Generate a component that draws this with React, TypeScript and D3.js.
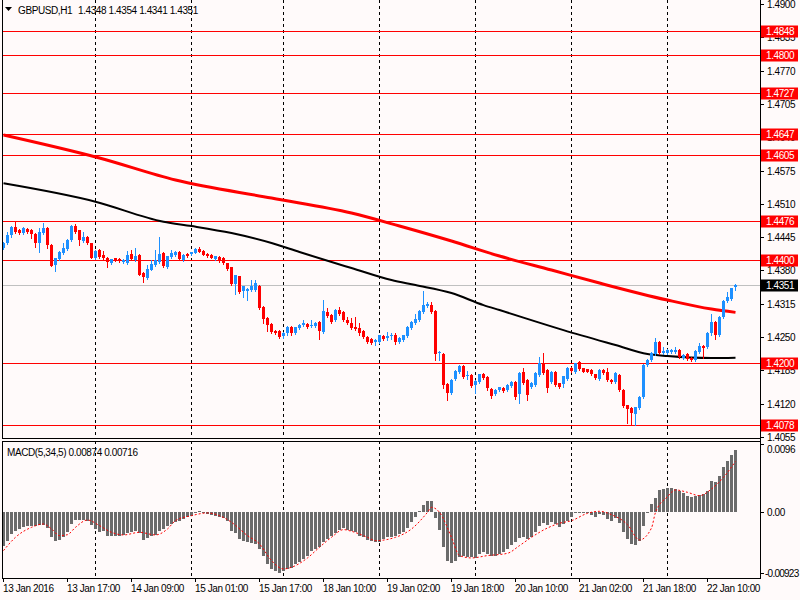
import React from "react";
import * as d3 from "d3";

// ---------- DATA ----------
const symbolTitle = "GBPUSD,H1";
const lastOHLC = [1.4348, 1.4354, 1.4341, 1.4351];

// hourly candles [open, high, low, close]
const candles: [number, number, number, number][] = [
  [1.4423,1.4436,1.4421,1.4434],[1.4433,1.4456,1.4431,1.4449],[1.4449,1.4467,1.4446,1.4465],[1.4464,1.4475,1.4454,1.4456],
  [1.4458,1.4460,1.4451,1.4454],[1.4454,1.4464,1.4452,1.4462],[1.4460,1.4462,1.4453,1.4456],[1.4459,1.4461,1.4443,1.4451],
  [1.4452,1.4454,1.4426,1.4433],[1.4433,1.4462,1.4417,1.4456],[1.4454,1.4472,1.4452,1.4462],[1.4462,1.4464,1.4423,1.4430],
  [1.4430,1.4431,1.4388,1.4389],[1.4391,1.4405,1.4378,1.4404],[1.4402,1.4418,1.4400,1.4417],[1.4415,1.4433,1.4413,1.4423],
  [1.4422,1.4441,1.4420,1.4439],[1.4439,1.4468,1.4437,1.4467],[1.4467,1.4471,1.4454,1.4456],[1.4458,1.4459,1.4430,1.4439],
  [1.4437,1.4456,1.4435,1.4445],[1.4445,1.4447,1.4431,1.4433],[1.4433,1.4434,1.4404,1.4405],[1.4404,1.4419,1.4402,1.4418],
  [1.4420,1.4421,1.4405,1.4407],[1.4410,1.4418,1.4402,1.4404],[1.4405,1.4406,1.4387,1.4397],[1.4395,1.4403,1.4392,1.4402],
  [1.4404,1.4405,1.4398,1.4399],[1.4403,1.4404,1.4397,1.4398],[1.4396,1.4402,1.4395,1.4400],[1.4395,1.4418,1.4393,1.4410],
  [1.4412,1.4420,1.4400,1.4402],[1.4400,1.4423,1.4398,1.4408],[1.4410,1.4412,1.4371,1.4372],[1.4376,1.4377,1.4358,1.4368],
  [1.4366,1.4391,1.4364,1.4382],[1.4381,1.4400,1.4380,1.4392],[1.4391,1.4420,1.4389,1.4400],[1.4397,1.4445,1.4395,1.4412],
  [1.4415,1.4416,1.4387,1.4389],[1.4387,1.4409,1.4385,1.4408],[1.4407,1.4420,1.4405,1.4415],[1.4410,1.4418,1.4409,1.4417],
  [1.4417,1.4418,1.4400,1.4402],[1.4400,1.4412,1.4399,1.4410],[1.4413,1.4415,1.4406,1.4408],[1.4412,1.4417,1.4411,1.4416],
  [1.4415,1.4424,1.4414,1.4422],[1.4422,1.4425,1.4416,1.4417],[1.4418,1.4420,1.4410,1.4411],[1.4413,1.4415,1.4406,1.4408],
  [1.4411,1.4412,1.4404,1.4405],[1.4403,1.4409,1.4401,1.4408],[1.4407,1.4408,1.4396,1.4398],[1.4405,1.4406,1.4393,1.4395],
  [1.4394,1.4395,1.4380,1.4382],[1.4386,1.4387,1.4352,1.4353],[1.4353,1.4372,1.4335,1.4371],[1.4369,1.4370,1.4336,1.4338],
  [1.4340,1.4350,1.4329,1.4349],[1.4340,1.4346,1.4322,1.4344],[1.4342,1.4362,1.4340,1.4350],[1.4342,1.4362,1.4340,1.4355],
  [1.4350,1.4352,1.4305,1.4307],[1.4309,1.4311,1.4278,1.4286],[1.4288,1.4289,1.4262,1.4273],[1.4275,1.4277,1.4257,1.4260],
  [1.4262,1.4264,1.4256,1.4258],[1.4262,1.4263,1.4249,1.4251],[1.4253,1.4260,1.4249,1.4257],[1.4257,1.4271,1.4255,1.4270],
  [1.4270,1.4271,1.4255,1.4257],[1.4258,1.4270,1.4256,1.4269],[1.4267,1.4275,1.4265,1.4273],[1.4273,1.4283,1.4272,1.4278],
  [1.4275,1.4277,1.4268,1.4270],[1.4271,1.4283,1.4270,1.4273],[1.4271,1.4280,1.4270,1.4278],[1.4280,1.4282,1.4246,1.4262],
  [1.4260,1.4322,1.4258,1.4301],[1.4298,1.4306,1.4290,1.4292],[1.4294,1.4296,1.4278,1.4280],[1.4283,1.4305,1.4281,1.4303],
  [1.4303,1.4308,1.4294,1.4296],[1.4299,1.4301,1.4281,1.4283],[1.4283,1.4290,1.4275,1.4277],[1.4278,1.4288,1.4265,1.4267],
  [1.4270,1.4290,1.4263,1.4265],[1.4268,1.4277,1.4255,1.4257],[1.4262,1.4263,1.4249,1.4251],[1.4251,1.4252,1.4239,1.4241],
  [1.4247,1.4249,1.4237,1.4239],[1.4241,1.4246,1.4234,1.4244],[1.4241,1.4255,1.4239,1.4254],[1.4253,1.4254,1.4245,1.4247],
  [1.4249,1.4260,1.4245,1.4252],[1.4252,1.4258,1.4247,1.4255],[1.4255,1.4257,1.4236,1.4241],[1.4240,1.4250,1.4238,1.4249],
  [1.4245,1.4255,1.4243,1.4254],[1.4252,1.4271,1.4250,1.4270],[1.4267,1.4282,1.4265,1.4280],[1.4278,1.4296,1.4276,1.4285],
  [1.4283,1.4303,1.4281,1.4301],[1.4299,1.4340,1.4297,1.4312],[1.4311,1.4319,1.4309,1.4314],[1.4312,1.4319,1.4297,1.4299],
  [1.4301,1.4303,1.4205,1.4217],[1.4218,1.4223,1.4205,1.4221],[1.4217,1.4219,1.4150,1.4156],[1.4158,1.4160,1.4128,1.4141],
  [1.4140,1.4169,1.4138,1.4167],[1.4168,1.4186,1.4166,1.4184],[1.4182,1.4195,1.4180,1.4193],[1.4193,1.4195,1.4171,1.4173],
  [1.4174,1.4184,1.4169,1.4176],[1.4176,1.4177,1.4152,1.4154],[1.4156,1.4166,1.4140,1.4164],[1.4163,1.4178,1.4161,1.4177],
  [1.4177,1.4179,1.4169,1.4171],[1.4173,1.4174,1.4146,1.4150],[1.4149,1.4150,1.4132,1.4135],[1.4139,1.4148,1.4137,1.4147],
  [1.4147,1.4153,1.4145,1.4152],[1.4150,1.4152,1.4143,1.4145],[1.4147,1.4158,1.4145,1.4156],[1.4154,1.4165,1.4152,1.4163],
  [1.4163,1.4165,1.4130,1.4134],[1.4139,1.4182,1.4122,1.4180],[1.4182,1.4189,1.4158,1.4160],[1.4167,1.4169,1.4127,1.4137],
  [1.4152,1.4163,1.4150,1.4161],[1.4156,1.4181,1.4154,1.4179],[1.4176,1.4212,1.4174,1.4199],[1.4199,1.4218,1.4178,1.4180],
  [1.4186,1.4187,1.4143,1.4150],[1.4163,1.4184,1.4161,1.4182],[1.4182,1.4184,1.4154,1.4156],[1.4160,1.4161,1.4150,1.4152],
  [1.4158,1.4175,1.4153,1.4174],[1.4169,1.4192,1.4167,1.4190],[1.4190,1.4192,1.4182,1.4184],[1.4182,1.4200,1.4180,1.4199],
  [1.4202,1.4204,1.4185,1.4187],[1.4189,1.4190,1.4181,1.4182],[1.4187,1.4188,1.4181,1.4182],[1.4186,1.4187,1.4176,1.4178],
  [1.4177,1.4178,1.4169,1.4171],[1.4169,1.4187,1.4167,1.4186],[1.4186,1.4187,1.4177,1.4179],[1.4182,1.4189,1.4164,1.4166],
  [1.4167,1.4168,1.4160,1.4162],[1.4163,1.4182,1.4161,1.4180],[1.4176,1.4178,1.4145,1.4147],[1.4147,1.4148,1.4113,1.4115],
  [1.4117,1.4118,1.4082,1.4109],[1.4112,1.4113,1.4080,1.4101],[1.4100,1.4114,1.4078,1.4113],[1.4111,1.4135,1.4109,1.4134],
  [1.4134,1.4197,1.4132,1.4195],[1.4195,1.4207,1.4193,1.4205],[1.4205,1.4221,1.4203,1.4219],[1.4217,1.4249,1.4215,1.4241],
  [1.4241,1.4243,1.4216,1.4218],[1.4218,1.4230,1.4216,1.4223],[1.4219,1.4226,1.4217,1.4225],[1.4221,1.4227,1.4219,1.4225],
  [1.4221,1.4230,1.4219,1.4225],[1.4225,1.4227,1.4210,1.4212],[1.4210,1.4216,1.4208,1.4215],[1.4217,1.4218,1.4206,1.4208],
  [1.4210,1.4211,1.4204,1.4206],[1.4206,1.4224,1.4204,1.4223],[1.4221,1.4238,1.4219,1.4232],[1.4232,1.4234,1.4210,1.4229],
  [1.4231,1.4260,1.4229,1.4257],[1.4257,1.4296,1.4255,1.4280],[1.4280,1.4282,1.4247,1.4255],[1.4255,1.4291,1.4253,1.4290],
  [1.4290,1.4322,1.4288,1.4321],[1.4321,1.4337,1.4319,1.4329],[1.4324,1.4346,1.4322,1.4345],[1.4348,1.4354,1.4341,1.4351],
];

// moving averages sampled at bar indices [index, price]
const maRed: [number, number][] = [
  [0,1.46443],[24,1.45994],[43,1.45564],[67,1.45213],[87,1.44920],[99,1.44667],[112,1.44374],
  [124,1.44081],[137,1.43808],[149,1.43554],[166,1.43222],[177,1.43046],[183,1.42982],
];
const maBlack: [number, number][] = [
  [0,1.45500],[23,1.45141],[40,1.44750],[47,1.44667],[57,1.44530],[67,1.44335],[74,1.44159],
  [87,1.43847],[97,1.43612],[103,1.43515],[112,1.43359],[120,1.43124],[124,1.43027],[140,1.42636],
  [153,1.42344],[161,1.42168],[166,1.42129],[177,1.42090],[183,1.42096],
];

// MACD histogram per bar
const macdHist: number[] = [
  -0.00468,-0.00398,-0.00304,-0.00267,-0.00234,-0.00201,-0.00187,-0.00187,-0.00187,-0.00173,
  -0.00173,-0.00220,-0.00351,-0.00398,-0.00384,-0.00351,-0.00281,-0.00164,-0.00108,-0.00108,
  -0.00108,-0.00117,-0.00173,-0.00234,-0.00281,-0.00267,-0.00328,-0.00328,-0.00328,-0.00328,
  -0.00314,-0.00295,-0.00281,-0.00257,-0.00295,-0.00384,-0.00360,-0.00328,-0.00318,-0.00257,
  -0.00234,-0.00187,-0.00164,-0.00140,-0.00117,-0.00094,-0.00061,-0.00047,-0.00014,0.00014,
  -0.00014,-0.00023,-0.00033,-0.00047,-0.00061,-0.00080,-0.00117,-0.00257,-0.00295,-0.00374,
  -0.00398,-0.00421,-0.00435,-0.00445,-0.00515,-0.00608,-0.00725,-0.00796,-0.00828,-0.00856,
  -0.00828,-0.00796,-0.00782,-0.00725,-0.00702,-0.00655,-0.00608,-0.00548,-0.00515,-0.00482,
  -0.00421,-0.00374,-0.00328,-0.00295,-0.00248,-0.00225,-0.00248,-0.00257,-0.00281,-0.00328,
  -0.00351,-0.00384,-0.00398,-0.00421,-0.00412,-0.00374,-0.00351,-0.00351,-0.00328,-0.00304,
  -0.00281,-0.00220,-0.00140,-0.00070,0.00023,0.00108,0.00164,0.00164,-0.00084,-0.00243,
  -0.00491,-0.00688,-0.00716,-0.00688,-0.00632,-0.00608,-0.00622,-0.00622,-0.00641,-0.00585,
  -0.00562,-0.00585,-0.00608,-0.00608,-0.00585,-0.00562,-0.00515,-0.00454,-0.00421,-0.00360,
  -0.00351,-0.00374,-0.00351,-0.00281,-0.00187,-0.00154,-0.00178,-0.00140,-0.00164,-0.00201,
  -0.00164,-0.00117,-0.00070,0.00005,0.00009,0.00009,-0.00014,-0.00033,-0.00070,-0.00023,
  -0.00033,-0.00094,-0.00117,-0.00080,-0.00154,-0.00281,-0.00374,-0.00445,-0.00459,-0.00398,
  -0.00187,-0.00014,0.00117,0.00201,0.00314,0.00332,0.00342,0.00342,0.00328,0.00304,
  0.00267,0.00234,0.00211,0.00234,0.00248,0.00257,0.00304,0.00435,0.00421,0.00515,
  0.00632,0.00725,0.00810,0.00874,
];

// MACD signal line sampled at bar indices
const macdSignal: [number, number][] = [
  [0,-0.00538],[3,-0.00351],[7,-0.00211],[10,-0.00164],[12,-0.00234],[14,-0.00328],[16,-0.00314],
  [18,-0.00211],[21,-0.00108],[24,-0.00187],[27,-0.00281],[30,-0.00318],[34,-0.00281],[38,-0.00318],
  [41,-0.00234],[43,-0.00117],[47,-0.00047],[51,-0.00009],[54,-0.00047],[57,-0.00140],[61,-0.00328],
  [64,-0.00445],[67,-0.00679],[70,-0.00796],[72,-0.00772],[76,-0.00641],[79,-0.00491],[82,-0.00351],
  [85,-0.00243],[87,-0.00267],[91,-0.00351],[93,-0.00398],[98,-0.00351],[102,-0.00234],[106,0.0],
  [107,0.00070],[109,0.0],[112,-0.00351],[114,-0.00608],[117,-0.00641],[121,-0.00608],[126,-0.00576],
  [129,-0.00468],[132,-0.00351],[136,-0.00220],[139,-0.00154],[142,-0.00117],[146,-0.00014],
  [149,0.00014],[152,-0.00033],[156,-0.00173],[159,-0.00388],[162,-0.00220],[163,0.0],[166,0.00220],
  [168,0.00314],[171,0.00281],[174,0.00234],[177,0.00328],[180,0.00491],[183,0.00716],
];

const priceTicks = [1.49, 1.4835, 1.477, 1.4705, 1.464, 1.4575, 1.451, 1.4445, 1.438, 1.4315, 1.425, 1.4185, 1.412, 1.4055];
const levelLines = [1.4848, 1.48, 1.4727, 1.4647, 1.4605, 1.4476, 1.44, 1.42, 1.4078];
const bidPrice = 1.4351;

const timeLabelBars = [0, 16, 32, 48, 64, 80, 96, 112, 128, 144, 160, 176];
const timeLabels = [
  "13 Jan 2016", "13 Jan 17:00", "14 Jan 09:00", "15 Jan 01:00", "15 Jan 17:00", "18 Jan 10:00",
  "19 Jan 02:00", "19 Jan 18:00", "20 Jan 10:00", "21 Jan 02:00", "21 Jan 18:00", "22 Jan 10:00",
];
const daySeparatorBars = [23, 47, 70, 94, 118, 142, 166];

const macdTicks = [0.0096, 0.0, -0.00923];
const macdTickText = ["0.0096", "0.00", "-0.00923"];
const macdTitle = "MACD(5,34,5) 0.00874 0.00716";

// ---------- LAYOUT ----------
const W = 800;
const H = 600;
const LEFT = 2;
const AXIS_X = 760;
const MAIN_TOP = 0;
const MAIN_BOTTOM = 438;
const SUB_TOP = 441;
const SUB_BOTTOM = 578;
const BG = "#fffafa";
const BULL = "#1e90ff";
const BEAR = "#ff0000";
const FONT = "'Liberation Sans', Arial, sans-serif";

export default function App() {
  const x = d3.scaleLinear().domain([0, candles.length - 1]).range([3, 3 + 4 * (candles.length - 1)]);
  const y = d3.scaleLinear().domain([1.4055, 1.49]).range([437, 4]);
  const ym = d3.scaleLinear().domain([-0.00923, 0.0096]).range([SUB_BOTTOM, 444]);

  const px = (i: number) => Math.round(x(i));
  const lineMA = d3
    .line<[number, number]>()
    .x((d) => x(d[0]) + 0.5)
    .y((d) => y(d[1]))
    .curve(d3.curveMonotoneX);
  const lineSig = d3
    .line<[number, number]>()
    .x((d) => x(d[0]) + 0.5)
    .y((d) => ym(d[1]))
    .curve(d3.curveMonotoneX);

  const fontProps = { fontFamily: FONT, fontSize: 10, letterSpacing: -0.4 } as const;

  return (
    <svg
      width={W}
      height={H}
      style={{ position: "absolute", left: 0, top: 0, display: "block", background: BG }}
    >
      <rect x={0} y={0} width={W} height={H} fill={BG} />

      {/* day separators */}
      {daySeparatorBars.map((b) => (
        <g key={"sep" + b}>
          <line x1={px(b) + 0.5} x2={px(b) + 0.5} y1={MAIN_TOP} y2={MAIN_BOTTOM} stroke="#000" strokeDasharray="3,3" />
          <line x1={px(b) + 0.5} x2={px(b) + 0.5} y1={SUB_TOP} y2={SUB_BOTTOM} stroke="#000" strokeDasharray="3,3" />
        </g>
      ))}

      {/* horizontal level lines */}
      {levelLines.map((p) => (
        <line key={"lv" + p} x1={LEFT} x2={AXIS_X} y1={Math.round(y(p)) + 0.5} y2={Math.round(y(p)) + 0.5} stroke="#ff0000" strokeWidth={1} />
      ))}
      <line x1={LEFT} x2={AXIS_X} y1={Math.round(y(bidPrice)) + 0.5} y2={Math.round(y(bidPrice)) + 0.5} stroke="#c0c0c0" strokeWidth={1} />

      {/* moving averages */}
      <path d={lineMA(maBlack) || ""} fill="none" stroke="#000" strokeWidth={2} />
      <path d={lineMA(maRed) || ""} fill="none" stroke="#ff0000" strokeWidth={3} />

      {/* candles */}
      {candles.map((c, i) => {
        const [o, h, l, cl] = c;
        const col = cl >= o ? BULL : BEAR;
        const xi = px(i);
        const top = Math.round(y(Math.max(o, cl)));
        const bot = Math.round(y(Math.min(o, cl)));
        return (
          <g key={"c" + i}>
            <line x1={xi + 0.5} x2={xi + 0.5} y1={Math.round(y(h))} y2={Math.round(y(l)) + 1} stroke={col} strokeWidth={1} />
            <rect x={xi - 1} y={top} width={3} height={Math.max(1, bot - top)} fill={col} />
          </g>
        );
      })}

      {/* MACD histogram */}
      {macdHist.map((v, i) => {
        const xi = px(i);
        const y0 = Math.round(ym(0));
        const y1 = Math.round(ym(v));
        return <rect key={"h" + i} x={xi - 1} y={Math.min(y0, y1)} width={3} height={Math.max(1, Math.abs(y1 - y0))} fill="#6b6b6b" />;
      })}
      <path d={lineSig(macdSignal) || ""} fill="none" stroke="#ff0000" strokeWidth={1} strokeDasharray="2,2" />

      {/* frames */}
      <line x1={LEFT + 0.5} x2={LEFT + 0.5} y1={MAIN_TOP} y2={MAIN_BOTTOM} stroke="#000" />
      <line x1={LEFT} x2={AXIS_X} y1={MAIN_BOTTOM + 0.5} y2={MAIN_BOTTOM + 0.5} stroke="#000" />
      <line x1={LEFT + 0.5} x2={LEFT + 0.5} y1={SUB_TOP} y2={SUB_BOTTOM} stroke="#000" />
      <line x1={LEFT} x2={AXIS_X} y1={SUB_TOP + 0.5} y2={SUB_TOP + 0.5} stroke="#000" />
      <line x1={LEFT} x2={AXIS_X + 1} y1={SUB_BOTTOM + 0.5} y2={SUB_BOTTOM + 0.5} stroke="#000" />
      <line x1={AXIS_X + 0.5} x2={AXIS_X + 0.5} y1={0} y2={SUB_BOTTOM + 1} stroke="#000" />

      {/* price axis */}
      {priceTicks.map((p) => {
        const yy = Math.round(y(p));
        return (
          <g key={"pt" + p}>
            <line x1={AXIS_X} x2={AXIS_X + 4} y1={yy + 0.5} y2={yy + 0.5} stroke="#000" />
            <text x={767} y={yy} dominantBaseline="central" fill="#000" {...fontProps}>
              {p.toFixed(4)}
            </text>
          </g>
        );
      })}
      {levelLines.map((p) => {
        const yy = Math.round(y(p));
        return (
          <g key={"lb" + p}>
            <rect x={761} y={yy - 5.5} width={37} height={12} fill="#ff0000" />
            <text x={766} y={yy + 0.5} dominantBaseline="central" fill="#fff" {...fontProps}>
              {p.toFixed(4)}
            </text>
          </g>
        );
      })}
      {(() => {
        const yy = Math.round(y(bidPrice));
        return (
          <g>
            <rect x={761} y={yy - 5.5} width={37} height={12} fill="#000" />
            <text x={766} y={yy + 0.5} dominantBaseline="central" fill="#fff" {...fontProps}>
              {bidPrice.toFixed(4)}
            </text>
          </g>
        );
      })()}

      {/* MACD axis */}
      {macdTicks.map((v, k) => {
        const yy = Math.round(ym(v));
        const ty = Math.min(Math.max(yy, 449), 573);
        const tickY = Math.min(yy, 573);
        const txt = macdTickText[k];
        return (
          <g key={"mt" + k}>
            <line x1={AXIS_X} x2={AXIS_X + 4} y1={tickY + 0.5} y2={tickY + 0.5} stroke="#000" />
            <text
              x={txt.startsWith("-") ? 765 : 767}
              y={ty}
              dominantBaseline="central"
              fill="#000"
              fontFamily={FONT}
              fontSize={10}
              letterSpacing={txt.startsWith("-") ? -0.75 : -0.4}
            >
              {txt}
            </text>
          </g>
        );
      })}

      {/* time axis */}
      {timeLabelBars.map((b, k) => (
        <g key={"tl" + b}>
          <line x1={px(b) + 0.5} x2={px(b) + 0.5} y1={SUB_BOTTOM} y2={SUB_BOTTOM + 4} stroke="#000" />
          <text x={px(b)} y={588} dominantBaseline="central" fill="#000" {...fontProps}>
            {timeLabels[k]}
          </text>
        </g>
      ))}

      {/* titles */}
      <path d="M5,7 L12,7 L8.5,11 Z" fill="#000" />
      <text x={18} y={10} dominantBaseline="central" fill="#000" {...fontProps}>
        {symbolTitle}
      </text>
      <text x={78} y={10} dominantBaseline="central" fill="#000" {...fontProps}>
        {lastOHLC.map((v) => v.toFixed(4)).join(" ")}
      </text>
      <text x={7} y={452} dominantBaseline="central" fill="#000" {...fontProps}>
        {macdTitle}
      </text>
    </svg>
  );
}
